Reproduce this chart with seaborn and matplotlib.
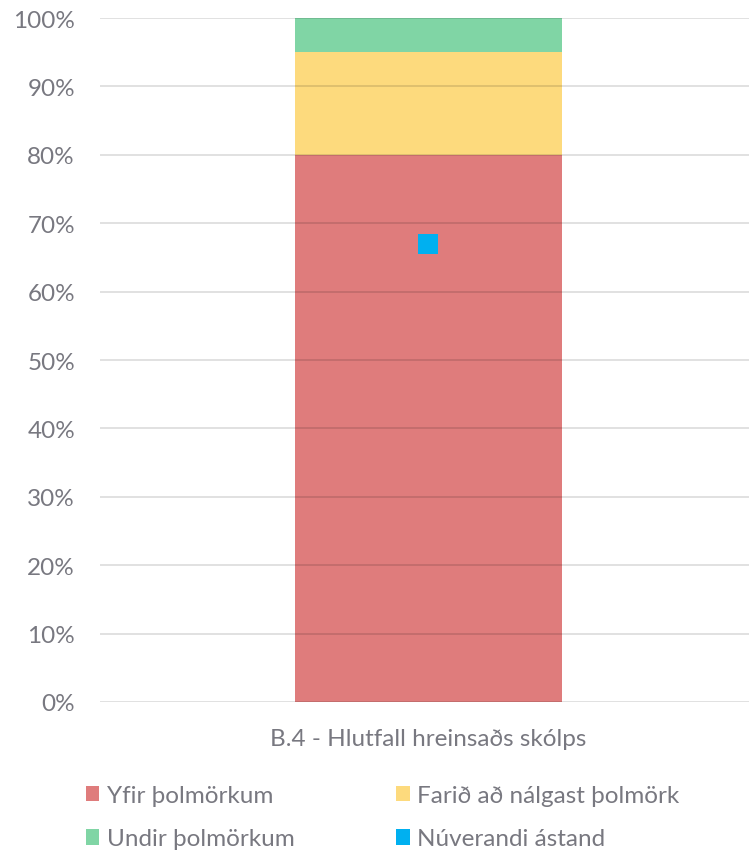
import matplotlib
matplotlib.use("Agg")
import matplotlib.pyplot as plt
import seaborn as sns
import pandas as pd
from matplotlib.patches import Patch
from matplotlib.ticker import PercentFormatter

sns.set_theme(style="white")
plt.rcParams['font.family'] = ['Lato', 'DejaVu Sans']

# data
category = ["B.4 - Hlutfall hreinsaðs skólps"]
yfir = [80]        # Yfir þolmörkum
farid = [15]       # Farið að nálgast þolmörk
undir = [5]        # Undir þolmörkum
nuverandi = [67]   # Núverandi ástand

labels = ["Yfir þolmörkum", "Farið að nálgast þolmörk",
          "Undir þolmörkum", "Núverandi ástand"]
colors = ["#DF7C7C", "#FDDA7D", "#80D5A5", "#00B0F0"]
grey = "#787880"

df = pd.DataFrame({"cat": category, "yfir": yfir, "farid": farid,
                   "undir": undir, "nu": nuverandi})
df["top1"] = df["yfir"]
df["top2"] = df["yfir"] + df["farid"]
df["top3"] = df["top2"] + df["undir"]

fig = plt.figure(figsize=(7.49, 8.54), dpi=100)
ax = fig.add_axes([100/749, 1 - 703/854, 657/749, 684/854])

# stacked bar drawn as overlapping cumulative bars
for col, c in [("top3", colors[2]), ("top2", colors[1]), ("top1", colors[0])]:
    sns.barplot(data=df, x="cat", y=col, color=c, width=0.406,
                saturation=1, ax=ax, zorder=2, linewidth=0)

sns.scatterplot(data=df, x="cat", y="nu", marker="s", s=196,
                color=colors[3], linewidth=0, ax=ax, zorder=4)

ax.set_ylim(0, 100)
ax.set_xlim(-0.5, 0.5)
ax.set_yticks(range(0, 101, 10))
ax.yaxis.set_major_formatter(PercentFormatter(decimals=0))
ax.grid(axis="y", color="black", alpha=0.14, linewidth=1.2, zorder=3)
ax.set_axisbelow(False)
for s in ax.spines.values():
    s.set_visible(False)
ax.tick_params(axis="both", length=0, labelsize=17.5, colors=grey)
ax.tick_params(axis="y", pad=18)
ax.tick_params(axis="x", pad=19)
ax.set_xlabel("")
ax.set_ylabel("")

# legend fills column-wise, so reorder to get rows like the reference
order = [0, 2, 1, 3]
handles = [Patch(facecolor=colors[i], edgecolor="none") for i in order]
fig.legend(handles, [labels[i] for i in order], ncol=2, loc="upper left",
           bbox_to_anchor=(86/749, 1 - 786/854), frameon=False,
           fontsize=17.5, labelcolor=grey, borderpad=0, borderaxespad=0,
           handlelength=0.55, handleheight=0.6, handletextpad=0.3,
           columnspacing=4.2, labelspacing=0.92)

fig.savefig("out.png", dpi=100)
